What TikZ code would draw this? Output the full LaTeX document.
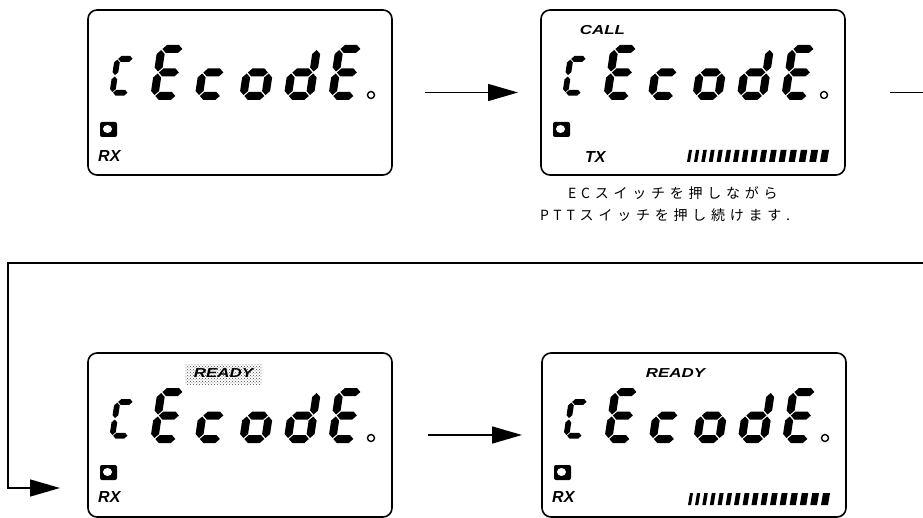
\documentclass[tikz,border=0pt]{standalone}
\usepackage{fontspec}
\usetikzlibrary{arrows.meta,patterns}
\newfontfamily\lcdfont{Liberation Sans}
\newfontfamily\jpfont[LetterSpace=34]{Noto Sans CJK JP}
% seven-segment helpers (local frame: y down, width 30, height 55)
\newcommand\hseg[3]{\fill (#1,#3) -- (#1+4,#3-4) -- (#2-4,#3-4) -- (#2,#3) -- (#2-4,#3+4) -- (#1+4,#3+4) -- cycle;}
\newcommand\vseg[3]{\fill (#1,#2) -- (#1+4,#2+4) -- (#1+4,#3-4) -- (#1,#3) -- (#1-4,#3-4) -- (#1-4,#2+4) -- cycle;}
\newcommand\sgA{\hseg{5}{25}{4}}
\newcommand\sgB{\vseg{26}{5}{26.5}}
\newcommand\sgC{\vseg{26}{28.5}{50}}
\newcommand\sgD{\hseg{5}{25}{51}}
\newcommand\sgE{\vseg{4}{28.5}{50}}
\newcommand\sgF{\vseg{4}{5}{26.5}}
\newcommand\sgG{\hseg{5}{25}{27.5}}
\newcommand\lcdch[4]{\begin{scope}[shift={(#1,#2)},xslant=0.15,scale=#3]#4\end{scope}}
\newcommand\lcdface{%
  \lcdch{27}{46}{0.72}{\sgA\sgF\sgE\sgD}%
  \lcdch{70}{35}{1}{\sgA\sgF\sgG\sgE\sgD}%
  \lcdch{114.5}{35}{1}{\sgG\sgE\sgD}%
  \lcdch{159}{35}{1}{\sgG\sgC\sgD\sgE}%
  \lcdch{203.5}{35}{1}{\sgB\sgC\sgG\sgE\sgD}%
  \lcdch{248}{35}{1}{\sgA\sgF\sgG\sgE\sgD}%
  \draw[line width=1.4pt] (283,85) circle (3.5);
  \fill[rounded corners=2pt] (12,112) rectangle (29,127);
  \fill[white] (19.5,119) ellipse (4.5 and 4);
}
\newcommand\lcdbars{%
  \foreach \i in {0,...,15}{%
    \pgfmathsetmacro\bx{146+7*\i+2*\i*(\i-1)/15}%
    \pgfmathsetmacro\bw{3+4*\i/15}%
    \fill (\bx,152) -- ++(\bw,0) -- ++(2,-12) -- ++(-\bw,0) -- cycle;}%
}
\begin{document}
\begin{tikzpicture}[x=1pt,y=-1pt,
  lcdbox/.style={draw,line width=1.6pt,rounded corners=9pt,inner sep=0pt,outer sep=0pt,
    minimum width=304pt,anchor=north west},
  flow/.style={line width=1.5pt,-{Triangle[length=30pt,width=17pt]}},
  plain/.style={line width=1.5pt},
  lbl/.style={font=\lcdfont\bfseries\itshape\fontsize{16}{16}\selectfont,inner sep=0pt},
  top/.style={font=\lcdfont\bfseries\itshape\fontsize{13}{13}\selectfont,inner sep=0pt},
  jp/.style={font=\jpfont\fontsize{14}{15}\selectfont,inner sep=0pt,anchor=west}]
\useasboundingbox (0,0) rectangle (923,518);
\fill[white] (0,0) rectangle (923,518);

\node[lcdbox,minimum height=165pt] (b1) at (88,10) {};
\node[lcdbox,minimum height=165pt] (b2) at (541,10) {};
\node[lcdbox,minimum height=164pt] (b3) at (88,353) {};
\node[lcdbox,minimum height=164pt] (b4) at (542,353) {};

% box 1
\begin{scope}[shift={(88,10)}]
  \lcdface
  \node[lbl,anchor=west] (rx1) at (10,146) {RX};
\end{scope}
% box 2
\begin{scope}[shift={(541,10)}]
  \lcdface
  \node[top] (call) at (61.5,20) {\scalebox{1.3}[1]{CALL}};
  \node[lbl,anchor=west] (tx2) at (44,146.5) {TX};
  \lcdbars
\end{scope}
% box 3
\begin{scope}[shift={(88,353)}]
  \fill[pattern=crosshatch dots,pattern color=black!70] (97,11) rectangle (174,31);
  \lcdface
  \node[top] (ready3) at (135.5,20.5) {\scalebox{1.3}[1]{READY}};
  \node[lbl,anchor=west] (rx3) at (10,143.5) {RX};
\end{scope}
% box 4
\begin{scope}[shift={(542,353)}]
  \lcdface
  \node[top] (ready4) at (133.5,20) {\scalebox{1.3}[1]{READY}};
  \node[lbl,anchor=west] (rx4) at (10,143.5) {RX};
  \lcdbars
\end{scope}

\node[jp] (t1) at (568,193) {ECスイッチを押しながら};
\node[jp] (t2) at (540,215) {PTTスイッチを押し続けます.};

% connectors
\draw[flow,shorten <=33pt,shorten >=23pt] (b1.east) -- (b2.west);
\coordinate (r1) at (923,92.5);
\draw[plain,shorten <=45pt] (b2.east) -- (r1);
\coordinate (c1) at (923,263);
\coordinate (c2) at (8,263);
\coordinate (c3) at (8,488);
\draw[flow,shorten >=28pt] (c1) -- (c2) -- (c3) -- (b3.west |- c3);
\draw[flow,shorten <=36pt,shorten >=20pt] (b3.east) -- (b4.west);
\end{tikzpicture}
\end{document}
